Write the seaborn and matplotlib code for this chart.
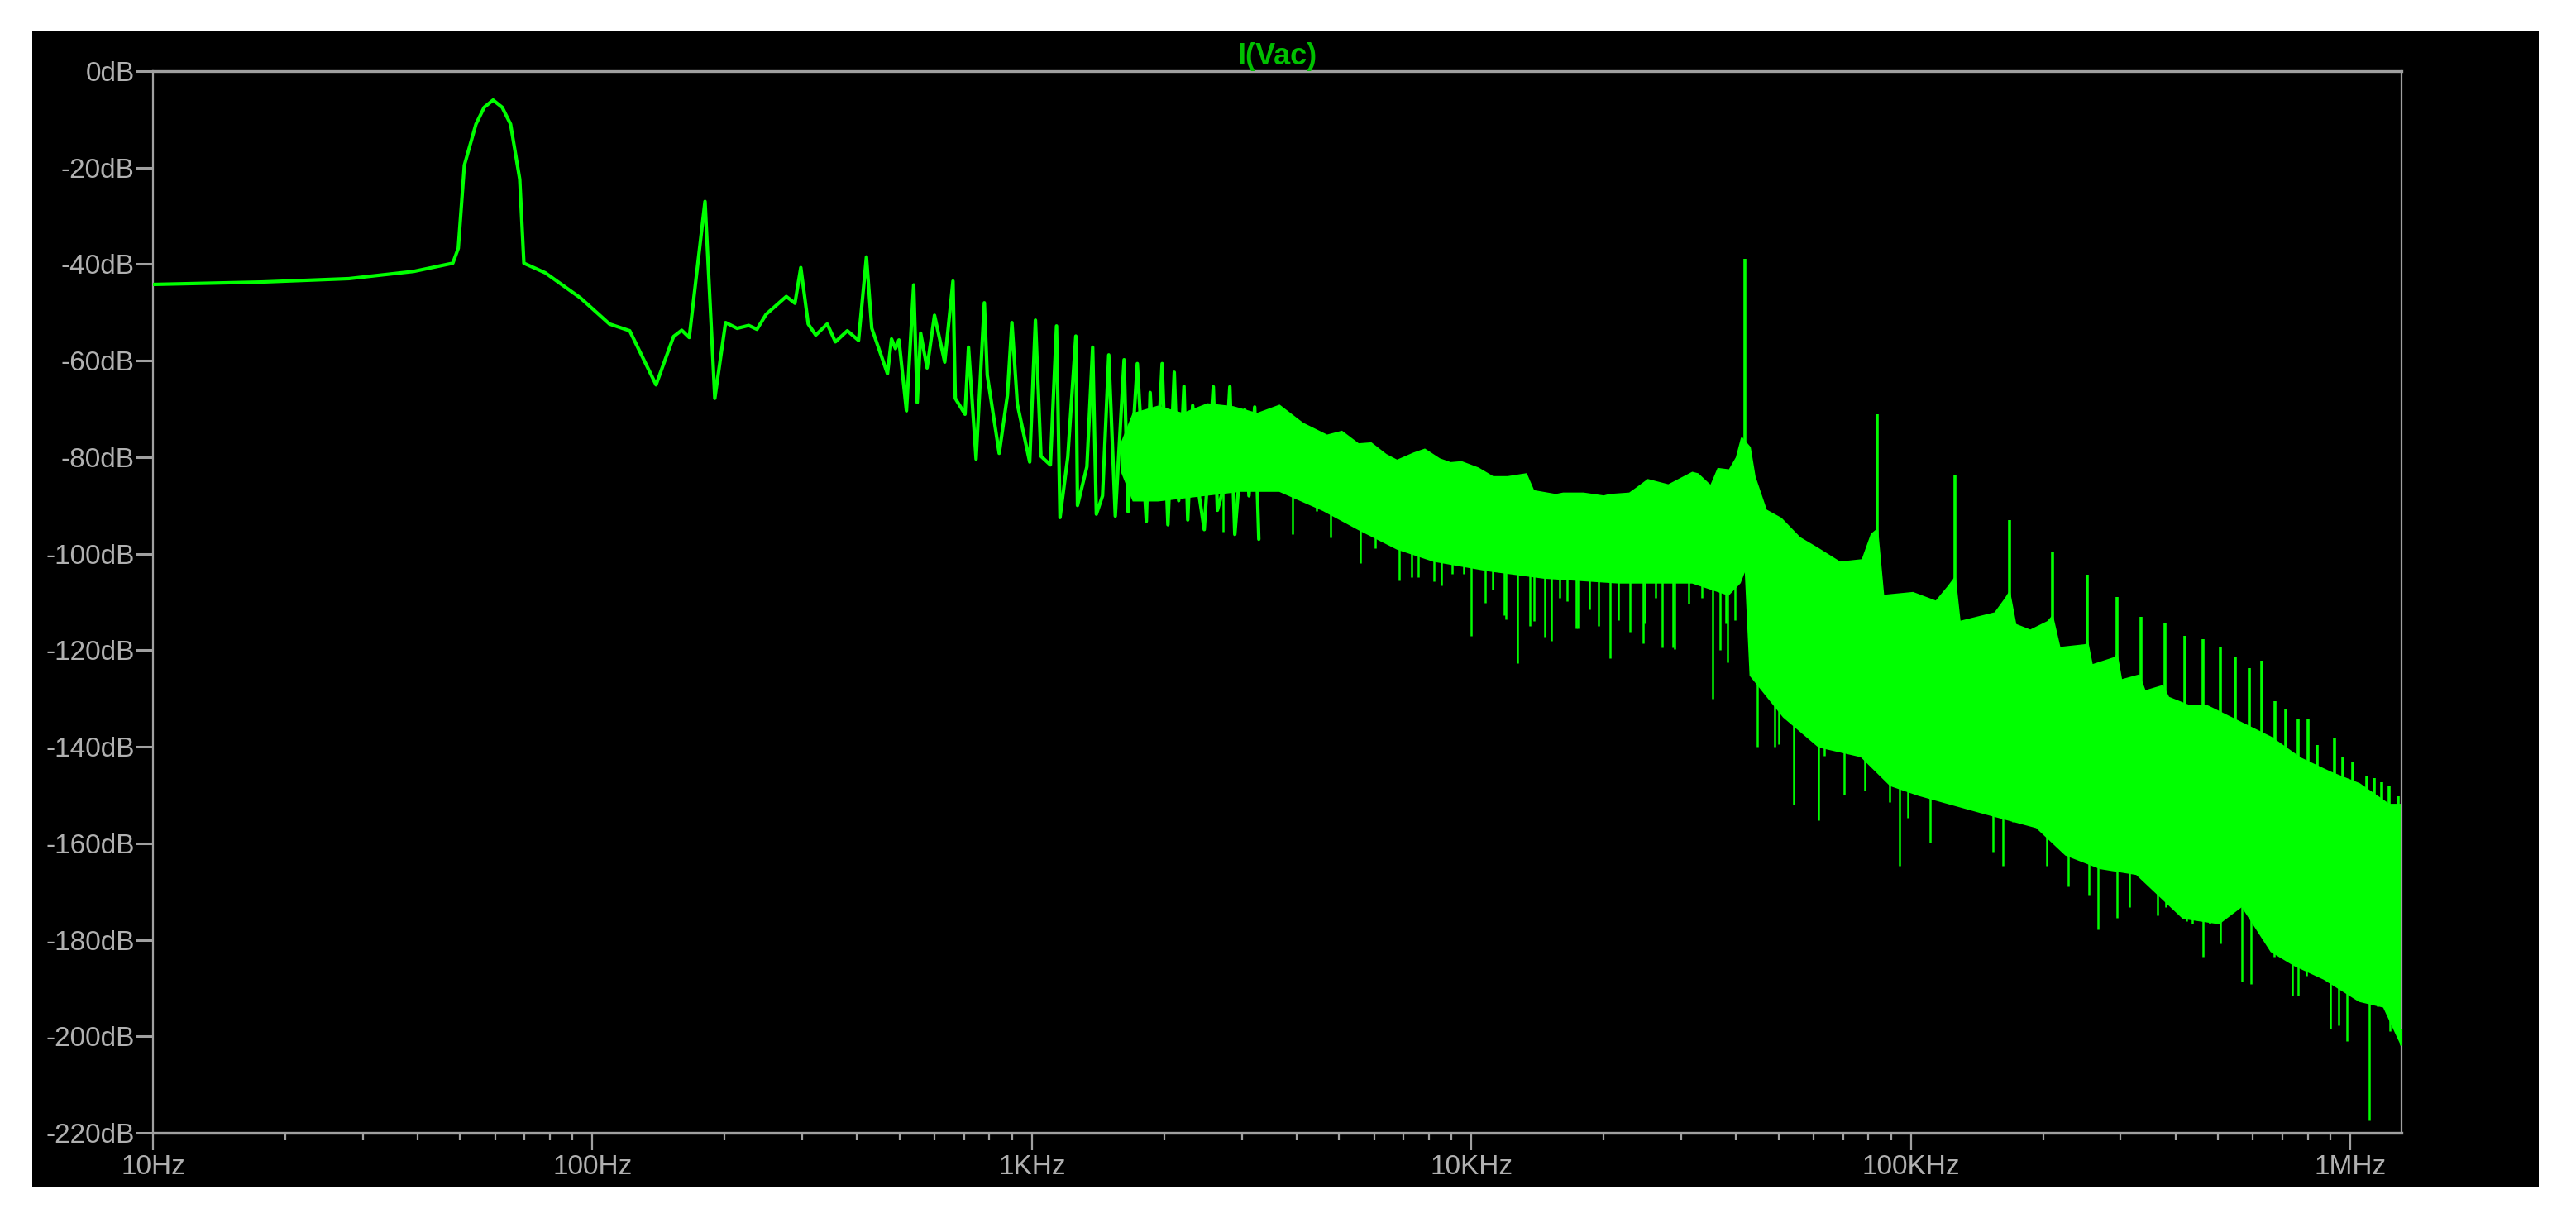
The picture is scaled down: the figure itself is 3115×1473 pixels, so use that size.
import numpy as np
import matplotlib
matplotlib.use("Agg")
import matplotlib.pyplot as plt
from matplotlib.patches import Rectangle
from matplotlib.ticker import FixedLocator, LogLocator, NullFormatter
import seaborn as sns

# clean part of the spectrum, 10 Hz .. ~3 kHz (Hz, dB)
trace_freq = [10, 17.7, 27.9, 39.2, 48.1, 49.5, 51.1, 54.3, 56.7, 59.4, 62.3, 65.1, 68.3, 69.8,
              78.1, 93.9, 109.3, 121.5, 139.5, 152.9, 159.6, 166, 180.3, 189.8, 200.8, 213.3,
              226.7, 236.7, 248.3, 276, 288.8, 297.8, 309.6, 322, 342, 357, 380, 403, 420, 432,
              469, 479, 489, 498, 518, 538, 548, 558, 577, 600, 633, 661, 669, 704, 717, 746,
              779, 791, 842, 879, 900, 926, 988, 1018, 1048, 1101, 1137, 1158, 1206, 1258, 1269,
              1333, 1374, 1401, 1447, 1495, 1547, 1620, 1654, 1736, 1820, 1857, 1910, 1977, 2038,
              2107, 2156, 2217, 2261, 2320, 2401, 2465, 2585, 2641, 2735, 2819, 2893, 3049, 3116,
              3211, 3281]
trace_db = [-44.2, -43.7, -43.0, -41.5, -39.8, -36.7, -19.5, -11, -7.5, -6.0, -7.5, -11, -22.4, -39.8,
            -41.8, -47, -52.4, -53.8, -65, -55, -53.7, -55.2, -27, -67.8, -52.1, -53.3,
            -52.7, -53.5, -50.4, -46.7, -48.1, -40.7, -52.4, -54.7, -52.4, -56.1, -53.8, -55.8, -38.5, -53.3,
            -62.7, -55.5, -57.5, -55.7, -70.4, -44.3, -68.7, -54.3, -61.5, -50.6, -60.3, -43.5, -67.8, -71.1, -57.2, -80.4,
            -48, -63, -79.2, -67.2, -52.1, -69, -81, -51.6, -79.8, -81.6, -52.8, -92.5, -80, -54.9, -90,
            -82, -57.2, -91.8, -88, -58.8, -92.2, -59.8, -91.3, -60.6, -93.3, -66.6, -88, -60.6, -94,
            -62.4, -89, -65.3, -93, -69.3, -88, -95, -65.4, -91, -86, -65.4, -96, -70.2, -88,
            -69.6, -97]

# upper edge of the dense noise floor
top_freq = [1600, 1700, 1934, 2203, 2508, 2868, 3253, 3656, 4128, 4690, 5070, 5530, 5910, 6390,
            6770, 7390, 7830, 8460, 8960, 9490, 10360, 11190, 12090, 13320, 13840, 15550, 16170,
            17970, 20000, 20590, 22880, 23790, 25200, 28050, 31810, 32750, 35030, 36400, 38600,
            40100, 41200, 43000, 44100, 46800, 50600, 55800, 61300, 68900, 77500, 81300, 83800,
            86500, 101000, 114000, 121400, 125900, 129100, 155300, 164100, 167500, 172900,
            186800, 204800, 209800, 217900, 250200, 251700, 258100, 290100, 294200, 301000,
            330300, 340600, 373600, 385300, 429100, 470700, 485600, 565900, 660200, 769800,
            899700, 1047000, 1224000, 1306000]
top_db = [-77, -71, -69.5, -71, -69, -69.6, -71, -69.3, -73, -75.5, -74.7, -77.3, -77.1, -79.5,
          -80.7, -79.2, -78.4, -80.4, -81.2, -81, -82.3, -84.1, -84.1, -83.5, -87, -87.8, -87.5,
          -87.5, -88.1, -87.8, -87.5, -86.4, -84.7, -85.8, -83.2, -83.5, -86, -82.4, -82.7,
          -80.1, -76, -78, -84.1, -91, -92.7, -96.7, -98.9, -101.8, -101.3, -96, -95,
          -108.7, -108.1, -109.9, -106.9, -105, -114.1, -112.3, -109.3, -108, -114.7,
          -115.9, -114.1, -113, -119.5, -118.9, -118, -123.1, -121.6, -121, -126.2,
          -125.2, -128.5, -127.4, -129.8, -131.5, -131.5, -132.1, -135.1, -138.1, -142.4,
          -145.3, -147.7, -152, -152]

# lower edge of the dense noise floor
bottom_freq = [1600, 1700, 1934, 2401, 2983, 3656, 4600, 5550, 6780, 8200, 10960, 14600, 21600,
               31800, 38400, 40800, 42000, 43100, 51300, 61700, 77000, 89800, 104000, 147000,
               193000, 225000, 270000, 326000, 416000, 502000, 566000, 660000, 746000, 870000,
               1047000, 1190000, 1306000]
bottom_db = [-83, -89, -89, -88, -87, -87, -91, -95, -99, -101.5, -103.5, -105, -106,
             -106, -108.5, -106, -103, -125.2, -133.8, -140, -142, -148, -150, -153.8,
             -156.7, -162.4, -165.2, -166.4, -175.5, -176.6, -173, -182.4, -185.3, -188.1,
             -192.7, -193.9, -201.8]

# switching harmonics standing above the floor
spike_freq = [41900, 83800, 125900, 167500, 209800, 251700, 294200, 334300, 378100, 419800,
              461600, 505500, 545700, 587300, 627900, 674500, 711700, 758600, 799100, 839200,
              921100, 960000, 1011000, 1088000, 1131000, 1176000, 1224000, 1283000]
spike_db = [-38.9, -71.1, -83.7, -93.1, -99.7, -104.4, -109, -113.1, -114.3, -117,
            -117.7, -119.2, -121.3, -123.7, -122.2, -130.6, -132.1, -134.2, -134.2, -139.7,
            -138.3, -142, -143.3, -145.9, -146.5, -147.3, -148, -150.2]

# deep notches below the floor
dip_freq = [2720, 2880, 3915, 4440, 4780, 5280, 5590, 6030, 6510, 6838, 7320, 7572, 8210, 8549,
            9050, 9590, 9970, 10750, 11190, 11870, 11980, 12730, 13580, 13850, 14680, 15200,
            15860, 16480, 17310, 17470, 18510, 19430, 20680, 21600, 22890, 24550, 24740, 26210,
            27200, 28710, 29000, 31200, 33380, 35380, 36780, 37860, 38200, 39720,
            44600, 45700, 48900, 50100, 54100, 58000, 61600, 63600, 70400, 78400, 89200, 89400,
            94300, 98400, 100900, 110600, 118400, 125200, 146100, 153400, 161600, 170300,
            181100, 189700, 203600, 216600, 228200, 239000, 254200, 266200, 278800, 293800,
            305800, 313400, 325300, 335500, 356800, 364600, 379500, 391400, 407400, 422700,
            436000, 460800, 478100, 505300, 566200, 593100, 606000, 640600, 670900, 713500,
            735900, 761200, 794800, 832300, 871700, 899000, 941500, 979900, 1017000, 1065000,
            1105000, 1150000, 1186000, 1231000, 1269000, 1301000]
dip_db = [-95.5, -88.8, -96, -91.2, -96.7, -93.1, -102, -98.9, -96.7, -105.5, -104.9, -104.9,
          -105.8, -106.6, -104.1, -104.1, -117, -110.2, -107.5, -112.7, -113.6, -122.6, -114.9,
          -114, -117.2, -118.1, -109.2, -109.8, -115.5, -115.5, -111.5, -115, -121.7, -113.8,
          -116.1, -118.6, -114.4, -109.2, -119.5, -119.5, -119.8, -110.4, -109.2,
          -130.1, -120, -114.4, -122.5, -113.8,
          -139.9, -119.5, -139.9, -139.4, -152, -135.7, -155.2, -141.8,
          -150, -149, -140.6, -151.5, -164.7, -154.7, -143, -159.8, -150.4, -150.7, -151.5,
          -161.8, -164.7, -155.5, -155.2, -156.1, -164.7, -158.7, -169, -162.4, -170.7,
          -177.8, -165.2, -175.5, -161.8, -173.2, -166.4, -165.8, -169.8, -175, -173.2,
          -164.7, -172.1, -176.1, -176.7, -183.5, -176.7, -180.7, -188.7, -189.2, -177.2,
          -176.7, -183.5, -177.8, -191.5, -191.5, -187.5, -179, -188.1, -198.4, -197.8, -201,
          -185.8, -192.7, -217.5, -193.8, -193.8, -199, -195, -201.8]

y_ticks = list(range(0, -221, -20))
y_labels = [f"{v}dB" for v in y_ticks]
x_ticks = [10, 100, 1000, 10000, 100000, 1000000]
x_labels = ["10Hz", "100Hz", "1KHz", "10KHz", "100KHz", "1MHz"]

GREEN = "#00ff00"
GREY = "#a0a0a0"

sns.set_style("dark", {"axes.facecolor": "black"})
plt.rcParams["font.family"] = ["Liberation Sans", "DejaVu Sans"]

fig = plt.figure(figsize=(31.15, 14.73), dpi=100, facecolor="white")
fig.add_artist(Rectangle((39 / 3115, 1 - 1436 / 1473), (3070 - 39) / 3115, (1436 - 38) / 1473,
                         transform=fig.transFigure, facecolor="black", edgecolor="none", zorder=0))
ax = fig.add_axes([185 / 3115, 1 - 1370 / 1473, (2904 - 185) / 3115, (1370 - 86) / 1473])
ax.set_facecolor("black")
ax.set_xscale("log")

# noise floor as a filled band
poly_x = np.concatenate([top_freq, bottom_freq[::-1]])
poly_y = np.concatenate([top_db, bottom_db[::-1]])
ax.fill(poly_x, poly_y, facecolor=GREEN, edgecolor=GREEN, lw=1.5, zorder=2)

lt, lb = np.log10(top_freq), np.log10(bottom_freq)
spike_base = np.interp(np.log10(spike_freq), lt, top_db) - 3
ax.vlines(spike_freq, spike_base, spike_db, color=GREEN, lw=2.6, zorder=3)
dip_base = np.interp(np.log10(dip_freq), lb, bottom_db) + 3
ax.vlines(dip_freq, dip_db, dip_base, color=GREEN, lw=1.8, zorder=3)

sns.lineplot(x=trace_freq, y=trace_db, ax=ax, color=GREEN, lw=3.0, sort=False,
             estimator=None, zorder=4)

ax.set_xlim(10, 1.306e6)
ax.set_ylim(-220, 0)
ax.xaxis.set_major_locator(FixedLocator(x_ticks))
ax.set_xticklabels(x_labels)
ax.xaxis.set_minor_locator(LogLocator(base=10, subs=np.arange(2, 10)))
ax.xaxis.set_minor_formatter(NullFormatter())
ax.set_yticks(y_ticks)
ax.set_yticklabels(y_labels)
ax.grid(False)

ax.tick_params(axis="x", which="major", direction="out", length=15, width=1.6, color=GREY,
               labelcolor="#b0b0b0", labelsize=24, pad=4, bottom=True)
ax.tick_params(axis="x", which="minor", direction="out", length=6.5, width=1.6, color=GREY,
               bottom=True)
ax.tick_params(axis="y", which="major", direction="out", length=15, width=2.2, color=GREY,
               labelcolor="#b0b0b0", labelsize=24, pad=1, left=True)

for side, spine in ax.spines.items():
    spine.set_visible(True)
    spine.set_color(GREY)
    spine.set_linewidth(2.4 if side in ("top", "bottom") else 1.6)

ax.set_title("I(Vac)", color="#00c000", fontsize=26, fontweight="bold", pad=6)
ax.set_xlabel("")
ax.set_ylabel("")

fig.savefig("out.png", dpi=100, facecolor="white")
